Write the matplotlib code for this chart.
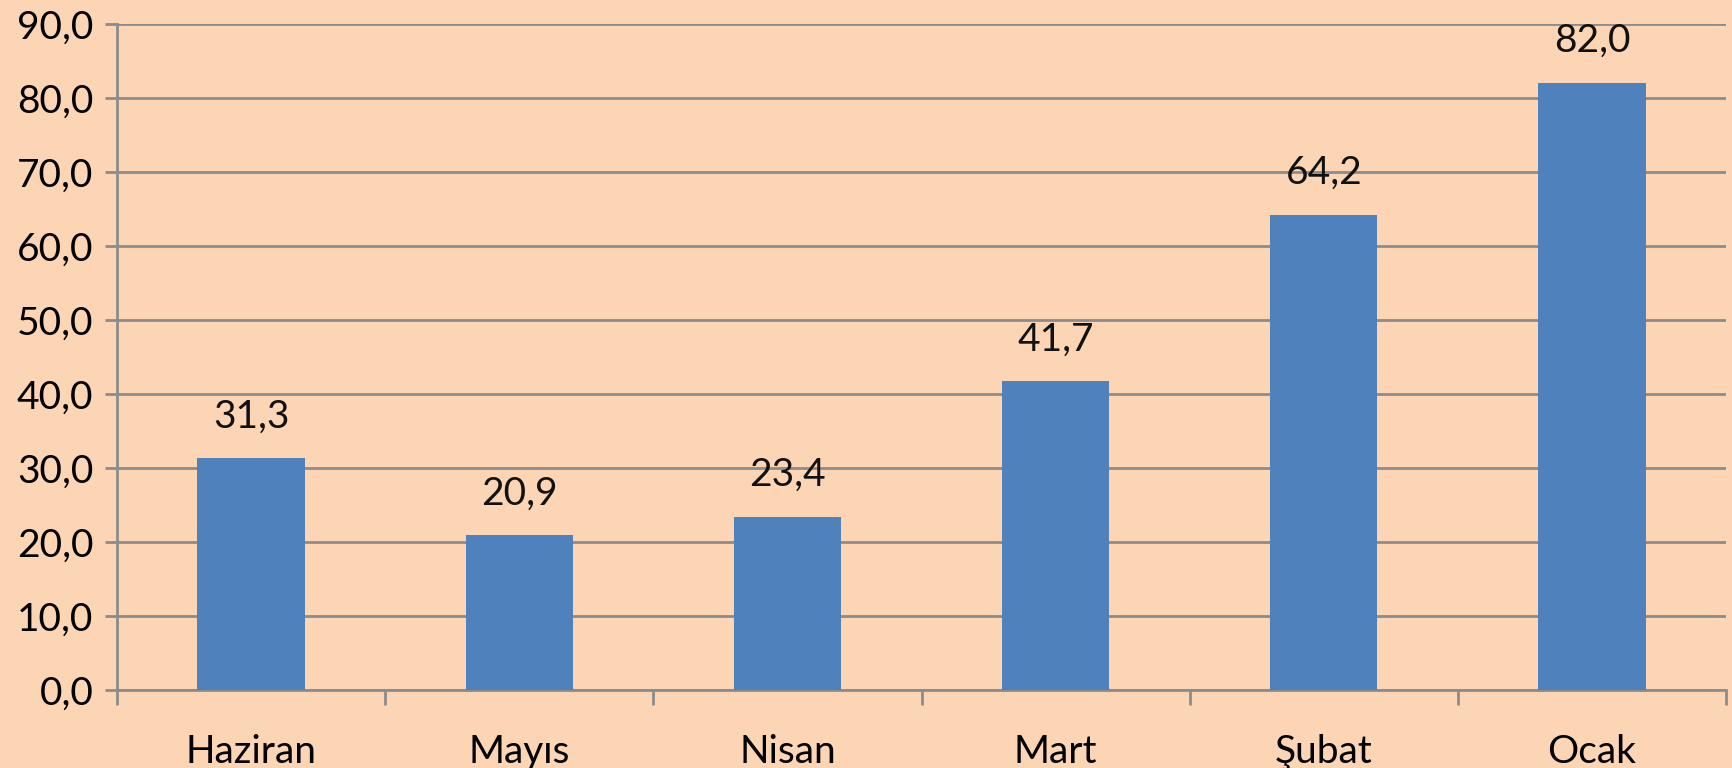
import matplotlib
matplotlib.use("Agg")
import matplotlib.pyplot as plt
import numpy as np

months = ["Haziran", "Mayıs", "Nisan", "Mart", "Şubat", "Ocak"]
values = [31.3, 20.9, 23.4, 41.7, 64.2, 82.0]
yticks = [0, 10, 20, 30, 40, 50, 60, 70, 80, 90]

plt.rcParams['font.family'] = ['Lato', 'DejaVu Sans']

bg = "#FCD5B4"
bar_color = "#4F81BD"
grid_color = "#8C8C8C"

fig = plt.figure(figsize=(17.33, 7.68), dpi=100, facecolor=bg)
ax = fig.add_axes([0.0675, 0.1016, 0.9285, 0.8672], facecolor=bg)

x = np.arange(len(months))
bars = ax.bar(x, values, width=0.4, color=bar_color, zorder=3)

for xi, v in zip(x, values):
    ax.annotate(f"{v:.1f}".replace(".", ","), (xi, v), xytext=(0, 31),
                textcoords="offset pixels", ha="center", va="baseline",
                fontsize=28, color="#111111")

ax.set_xlim(-0.5, len(months) - 0.5)
ax.set_ylim(0, 90)
ax.set_yticks(yticks)
ax.set_yticklabels([f"{t:.1f}".replace(".", ",") for t in yticks])
ax.yaxis.grid(True, color=grid_color, linewidth=2, zorder=0)
ax.set_axisbelow(True)

# category ticks at boundaries, labels centred
ax.set_xticks(np.arange(-0.5, len(months) + 0.5, 1.0))
ax.set_xticklabels([])
ax.set_xticks(x, minor=True)
ax.set_xticklabels(months, minor=True)
ax.tick_params(axis="x", which="minor", length=0, pad=32, labelsize=28)
ax.tick_params(axis="x", which="major", length=11, width=2, color=grid_color)
ax.tick_params(axis="y", length=9, width=2, color=grid_color, pad=8, labelsize=28)

for s in ["top", "right"]:
    ax.spines[s].set_visible(False)
for s in ["left", "bottom"]:
    ax.spines[s].set_color(grid_color)
    ax.spines[s].set_linewidth(2)

fig.savefig("out.png", dpi=100, facecolor=bg)
